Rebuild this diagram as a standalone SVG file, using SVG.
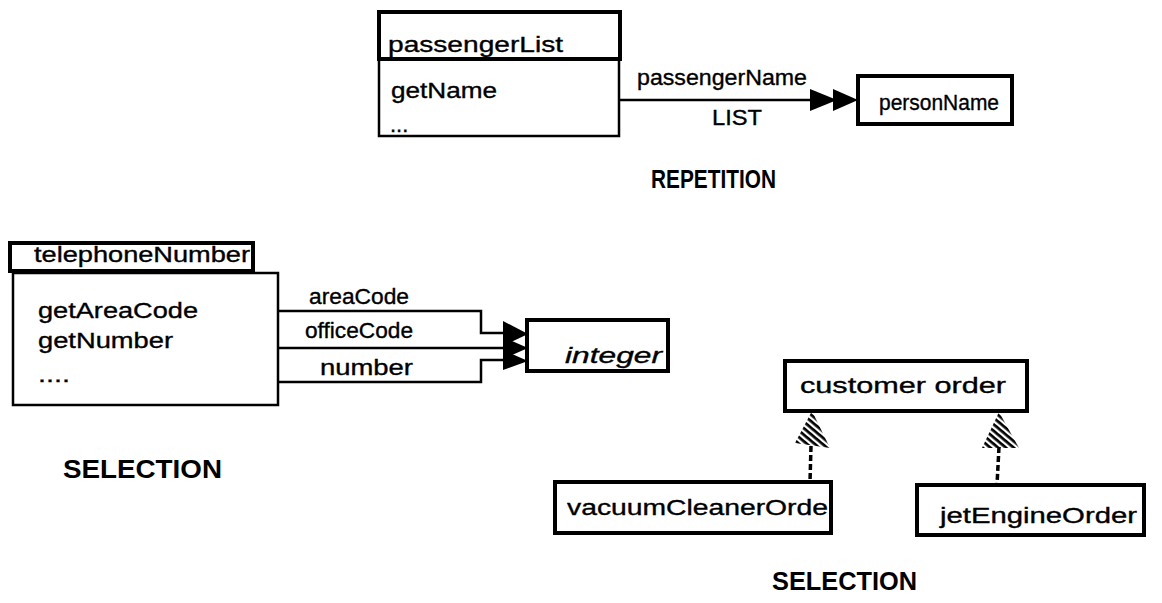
<svg xmlns="http://www.w3.org/2000/svg" width="1162" height="603" viewBox="0 0 1162 603">
<style>
text{font-family:"Liberation Sans",Arial,sans-serif;fill:#000}
.t{font-size:22px;stroke:#000;stroke-width:0.35}
.b{font-size:25px;font-weight:bold}
.thick{fill:#fff;stroke:#000;stroke-width:4}
.thin{fill:#fff;stroke:#000;stroke-width:2.5}
.line{fill:none;stroke:#000;stroke-width:2.5}
.head{fill:#000;stroke:none}
.hatch{fill:url(#hatch);stroke:none}
.stem{fill:none;stroke:#000;stroke-width:3.5;stroke-dasharray:6 3}
</style>
<defs>
<pattern id="hatch" patternUnits="userSpaceOnUse" width="5" height="5" patternTransform="rotate(40)">
<rect x="0" y="0" width="5" height="2.7" fill="#000"/>
</pattern>
</defs>
<rect width="1162" height="603" fill="#fff"/>

<g id="connectors">
<path class="line" d="M620,100 H812"/>
<path class="head" d="M810,89 L837,100 L810,111 Z"/>
<path class="head" d="M833,89 L858,100 L833,111 Z"/>
<path class="line" d="M278,311 H481 V333 H505"/>
<path class="line" d="M278,348 H505"/>
<path class="line" d="M278,382 H481 V360 H505"/>
<path class="head" d="M503,321 L528,334 L503,346 Z"/>
<path class="head" d="M503,337 L528,348 L503,359 Z"/>
<path class="head" d="M503,350 L528,361 L503,370 Z"/>
<path class="stem" d="M811,446 L810,482"/>
<path class="hatch" d="M812,411 L830,448 L795,443 Z"/>
<path class="stem" d="M999,447 L997,485"/>
<path class="hatch" d="M999,412 L1019,448 L982,448 Z"/>
</g>

<g id="passengerList">
<rect class="thin" x="379" y="59" width="240" height="77"/>
<rect class="thick" x="379" y="12" width="241" height="47"/>
<text class="t" x="388" y="52" textLength="175" lengthAdjust="spacingAndGlyphs">passengerList</text>
<text class="t" x="391" y="98" textLength="106" lengthAdjust="spacingAndGlyphs">getName</text>
<text class="t" x="390" y="132">...</text>
</g>

<g id="personName">
<rect class="thick" x="858" y="76" width="154" height="48"/>
<text class="t" x="879" y="110" textLength="120" lengthAdjust="spacingAndGlyphs">personName</text>
</g>

<g id="labels-repetition">
<text class="t" x="637" y="85" textLength="170" lengthAdjust="spacingAndGlyphs">passengerName</text>
<text class="t" x="712" y="125" textLength="50" lengthAdjust="spacingAndGlyphs">LIST</text>
<text class="b" x="651" y="188" textLength="125" lengthAdjust="spacingAndGlyphs">REPETITION</text>
</g>

<g id="telephoneNumber">
<rect class="thin" x="13" y="273" width="265" height="132"/>
<rect class="thick" x="10" y="243" width="243" height="28"/>
<text class="t" x="34" y="262" textLength="216" lengthAdjust="spacingAndGlyphs">telephoneNumber</text>
<text class="t" x="38" y="318" textLength="160" lengthAdjust="spacingAndGlyphs">getAreaCode</text>
<text class="t" x="38" y="348" textLength="135" lengthAdjust="spacingAndGlyphs">getNumber</text>
<text class="t" x="38" y="382" textLength="32" lengthAdjust="spacingAndGlyphs">....</text>
</g>

<g id="labels-selection1">
<text class="t" x="309" y="304" textLength="100" lengthAdjust="spacingAndGlyphs">areaCode</text>
<text class="t" x="305" y="338" textLength="108" lengthAdjust="spacingAndGlyphs">officeCode</text>
<text class="t" x="320" y="375" textLength="93" lengthAdjust="spacingAndGlyphs">number</text>
<text class="b" x="63" y="478" textLength="159" lengthAdjust="spacingAndGlyphs">SELECTION</text>
</g>

<g id="integer">
<rect class="thick" x="527" y="320" width="141" height="51"/>
<text class="t" x="565" y="363" font-style="italic" textLength="97" lengthAdjust="spacingAndGlyphs">integer</text>
</g>

<g id="customerOrder">
<rect class="thick" x="785" y="361" width="242" height="50"/>
<text class="t" x="800" y="393" textLength="206" lengthAdjust="spacingAndGlyphs">customer  order</text>
</g>

<g id="vacuumCleanerOrder">
<rect class="thick" x="555" y="482" width="276" height="51"/>
<text class="t" x="567" y="515" textLength="261" lengthAdjust="spacingAndGlyphs">vacuumCleanerOrde</text>
</g>

<g id="jetEngineOrder">
<rect class="thick" x="917" y="485" width="227" height="50"/>
<text class="t" x="940" y="523" textLength="197" lengthAdjust="spacingAndGlyphs">jetEngineOrder</text>
</g>

<g id="label-selection2">
<text class="b" x="772" y="590" textLength="145" lengthAdjust="spacingAndGlyphs">SELECTION</text>
</g>
</svg>
